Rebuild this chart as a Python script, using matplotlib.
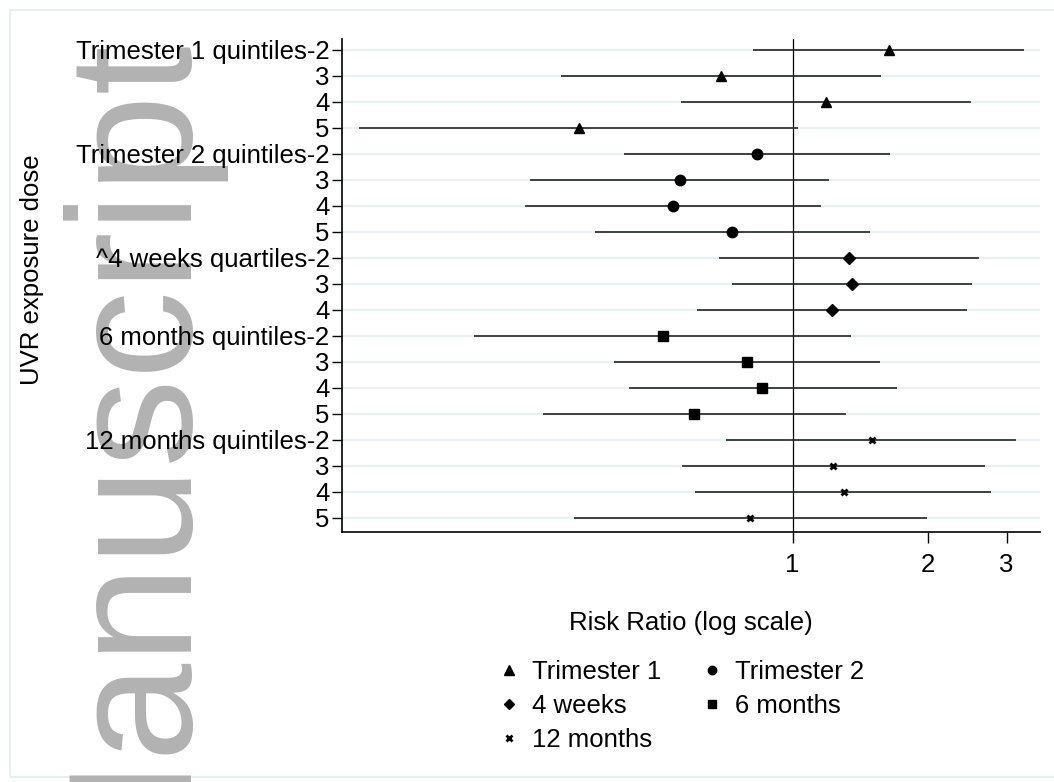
import matplotlib
matplotlib.use("Agg")
import matplotlib.pyplot as plt
from matplotlib.lines import Line2D
from matplotlib.patches import Rectangle
import numpy as np

plt.rcParams['font.family'] = ['Liberation Sans', 'DejaVu Sans']

# row labels, top to bottom
row_labels = ["Trimester 1 quintiles-2", "3", "4", "5",
              "Trimester 2 quintiles-2", "3", "4", "5",
              "^4 weeks quartiles-2", "3", "4",
              "6 months quintiles-2", "3", "4", "5",
              "12 months quintiles-2", "3", "4", "5"]

groups = ["Trimester 1", "Trimester 2", "4 weeks", "6 months", "12 months"]

# risk ratio and 95% CI for each group
t1_rr = [1.64, 0.694, 1.185, 0.334]
t1_lo = [0.818, 0.304, 0.564, 0.108]
t1_hi = [3.28, 1.577, 2.498, 1.028]

t2_rr = [0.834, 0.560, 0.540, 0.732]
t2_lo = [0.421, 0.260, 0.253, 0.362]
t2_hi = [1.645, 1.205, 1.157, 1.486]

w4_rr = [1.336, 1.358, 1.225]
w4_lo = [0.685, 0.733, 0.611]
w4_hi = [2.601, 2.51, 2.452]

m6_rr = [0.513, 0.791, 0.855, 0.603]
m6_lo = [0.195, 0.400, 0.431, 0.278]
m6_hi = [1.349, 1.566, 1.705, 1.315]

m12_rr = [1.50, 1.23, 1.30, 0.805]
m12_lo = [0.711, 0.567, 0.607, 0.326]
m12_hi = [3.15, 2.68, 2.77, 1.99]

x_ticks = [1, 2, 3]

# data, marker, plot size, legend size, edge width
series = [
    (t1_rr, t1_lo, t1_hi, '^', 7.5, 6.5, 1.0),
    (t2_rr, t2_lo, t2_hi, 'o', 7.5, 6.0, 1.0),
    (w4_rr, w4_lo, w4_hi, 'D', 6.5, 5.5, 1.0),
    (m6_rr, m6_lo, m6_hi, 's', 7, 6.0, 1.0),
    (m12_rr, m12_lo, m12_hi, 'x', 4.5, 4.5, 2.0),
]

FS = 18.5
W, H = 1054, 782
fig = plt.figure(figsize=(W / 100, H / 100), dpi=100)

# light outer frame of the graph region
fig.patches.append(Rectangle((10 / W, 5 / H), 1.2, (H - 15) / H, transform=fig.transFigure,
                             fill=False, edgecolor='#e6eef0', linewidth=1.5, zorder=-3))

# manuscript watermark
fig.text(178 / W, (H - 30) / H, "Manuscript", rotation=90, rotation_mode='anchor',
         ha='right', va='baseline', fontsize=127, color='#b2b2b2', zorder=-2)

ax = fig.add_axes([342 / W, 1 - 532 / H, (1040 - 342) / W, (532 - 39) / H])
ax.set_facecolor('none')

ypos = np.arange(1, len(row_labels) + 1)
for y in ypos:
    ax.axhline(y, color='#e9f0f2', lw=1.6, zorder=0)
ax.axvline(1, color='black', lw=0.9, zorder=1)

start = 0
handles = []
for rr, lo, hi, mk, ms, lms, mew in series:
    n = len(rr)
    yy = ypos[start:start + n]
    ax.hlines(yy, lo, hi, color='#222222', lw=1.2, zorder=2)
    ax.plot(rr, yy, linestyle='none', marker=mk, markersize=ms, color='black',
            markeredgewidth=mew, zorder=3)
    handles.append(Line2D([], [], linestyle='none', marker=mk, color='black',
                          markersize=lms, markeredgewidth=mew))
    start += n

ax.set_xscale('log')
ax.set_xlim(0.099, 3.56)
ax.set_ylim(19.54, 0.58)
ax.set_xticks(x_ticks)
ax.set_xticklabels([str(t) for t in x_ticks])
ax.minorticks_off()
ax.set_yticks(ypos)
ax.set_yticklabels(row_labels)
ax.tick_params(axis='y', length=7, width=1, labelsize=FS, pad=2)
ax.tick_params(axis='x', length=8, width=1, labelsize=FS, pad=7)

for s in ['top', 'right']:
    ax.spines[s].set_visible(False)
for s in ['left', 'bottom']:
    ax.spines[s].set_linewidth(1.2)

fig.text(691 / W, 1 - 623 / H, "Risk Ratio (log scale)", ha='center', va='center', fontsize=FS)
fig.text(32 / W, 1 - 270 / H, "UVR exposure dose", rotation=90, ha='center', va='center',
         fontsize=FS)

# legend laid out row-wise like the original
order = [0, 2, 4, 1, 3]
fig.legend([handles[i] for i in order], [groups[i] for i in order], ncol=2,
           loc='upper left', bbox_to_anchor=(497 / W, 1 - 660 / H), frameon=False,
           fontsize=FS, handlelength=0.9, handletextpad=0.45, columnspacing=1.55,
           labelspacing=0.38, borderpad=0, borderaxespad=0)

fig.savefig('out.png', dpi=100)
